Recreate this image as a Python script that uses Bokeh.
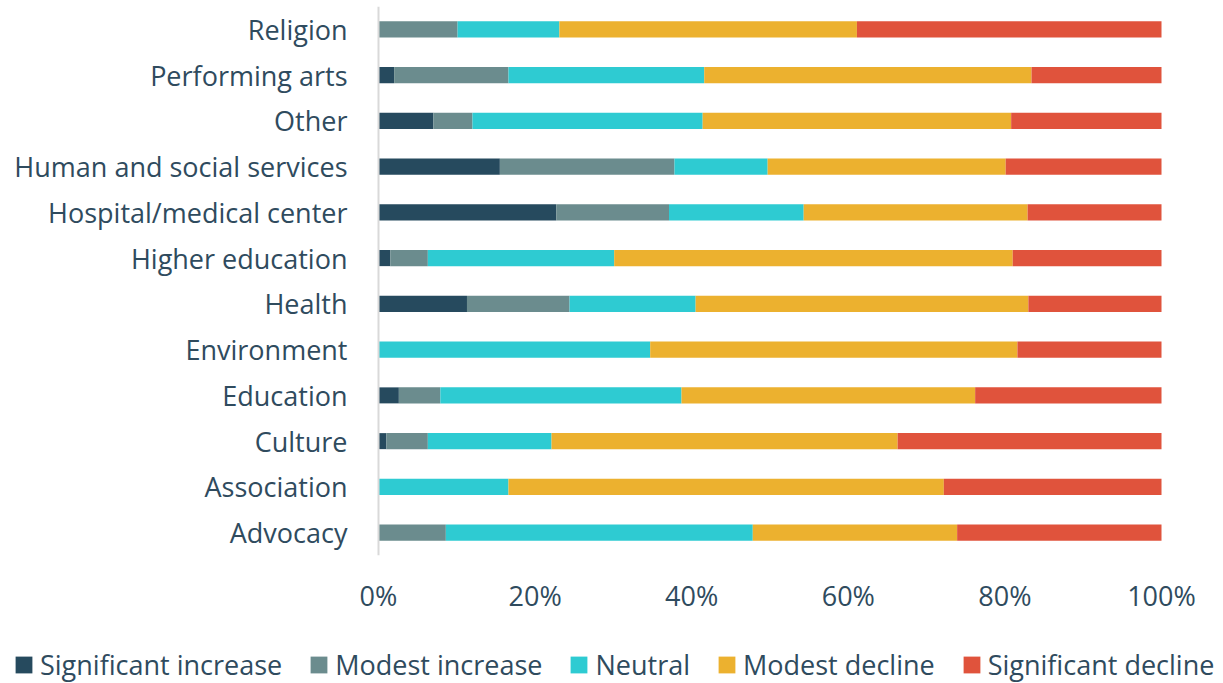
from bokeh.plotting import figure
from bokeh.models import ColumnDataSource, FixedTicker, Legend, LegendItem, FactorRange
from bokeh.layouts import column
from bokeh.embed import file_html
from bokeh.resources import INLINE

categories = ["Religion", "Performing arts", "Other", "Human and social services",
              "Hospital/medical center", "Higher education", "Health", "Environment",
              "Education", "Culture", "Association", "Advocacy"]

series_names = ["Significant increase", "Modest increase", "Neutral",
                "Modest decline", "Significant decline"]

significant_increase = [0.0, 2.0, 7.0, 15.5, 22.7, 1.5, 11.3, 0.0, 2.6, 1.0, 0.0, 0.0]
modest_increase      = [10.1, 14.6, 5.0, 22.3, 14.4, 4.8, 13.1, 0.0, 5.3, 5.3, 0.0, 8.6]
neutral              = [13.0, 25.0, 29.4, 11.9, 17.2, 23.8, 16.1, 34.7, 30.8, 15.8, 16.6, 39.2]
modest_decline       = [38.0, 41.8, 39.4, 30.4, 28.6, 50.9, 42.5, 46.9, 37.5, 44.2, 55.6, 26.1]
significant_decline  = [38.9, 16.6, 19.2, 19.9, 17.1, 19.0, 17.0, 18.4, 23.8, 33.7, 27.8, 26.1]

tick_values = [0, 20, 40, 60, 80, 100]
tick_labels = ["0%", "20%", "40%", "60%", "80%", "100%"]

colors = ["#264a5e", "#6b8c8e", "#2ecbd2", "#ecb12f", "#e0533c"]
text_color = "#2f4b5e"
font = "Open Sans"

keys = ["s1", "s2", "s3", "s4", "s5"]
source = ColumnDataSource(dict(
    cat=categories,
    s1=significant_increase, s2=modest_increase, s3=neutral,
    s4=modest_decline, s5=significant_decline,
))

# frame spans the full width; 0% sits at 378 px, 100% at 1161 px
px_per_pct = (1161 - 378) / 100.0
x_start = -378 / px_per_pct
x_end = 100 + (1223 - 1161) / px_per_pct

p = figure(width=1223, height=620, output_backend="svg", toolbar_location=None,
           y_range=FactorRange(*list(reversed(categories)), range_padding=0),
           x_range=(x_start, x_end), min_border_left=0, min_border_right=0,
           min_border_top=6, min_border_bottom=65)
p.outline_line_color = None
p.background_fill_color = "white"
p.border_fill_color = "white"

p.hbar_stack(keys, y="cat", height=0.35, color=colors, source=source, line_color=None)

p.xgrid.visible = False
p.ygrid.visible = False

xa = p.xaxis[0]
xa.ticker = FixedTicker(ticks=tick_values)
xa.major_label_overrides = {v: l for v, l in zip(tick_values, tick_labels)}
xa.axis_line_color = None
xa.major_tick_line_color = None
xa.minor_tick_line_color = None
xa.major_label_text_font = font
xa.major_label_text_font_size = "27px"
xa.major_label_text_color = text_color
xa.major_label_standoff = 15

ya = p.yaxis[0]
ya.fixed_location = 0
ya.axis_line_color = "#d9d9d9"
ya.axis_line_width = 2
ya.major_tick_line_color = None
ya.minor_tick_line_color = None
ya.major_label_text_font = font
ya.major_label_text_font_size = "27px"
ya.major_label_text_color = text_color
ya.major_label_standoff = 25

# legend strip below the chart
lg = figure(width=1223, height=63, output_backend="svg", toolbar_location=None,
            x_range=(0, 1), y_range=(0, 1), x_axis_location=None, y_axis_location=None,
            min_border_left=0, min_border_right=0, min_border_top=0, min_border_bottom=0)
lg.outline_line_color = None
lg.border_fill_color = "white"
lg.background_fill_color = "white"
lg.xgrid.visible = False
lg.ygrid.visible = False
items = []
for name, c in zip(series_names, colors):
    dummy = ColumnDataSource(dict(y=[0.5], left=[0], right=[0]))
    r = lg.hbar(y="y", left="left", right="right", height=0.5, fill_color=c,
                line_color=None, source=dummy)
    items.append(LegendItem(label=name, renderers=[r]))
legend = Legend(items=items, orientation="horizontal", location=(13, 0),
                glyph_width=21, glyph_height=21, label_standoff=6, spacing=26,
                padding=0, margin=0, label_height=30,
                label_text_font=font, label_text_font_size="27px",
                label_text_color=text_color, background_fill_alpha=0,
                border_line_color=None)
lg.add_layout(legend, "center")

layout = column(p, lg, spacing=0)
open("out.html", "w").write(file_html(layout, INLINE))
